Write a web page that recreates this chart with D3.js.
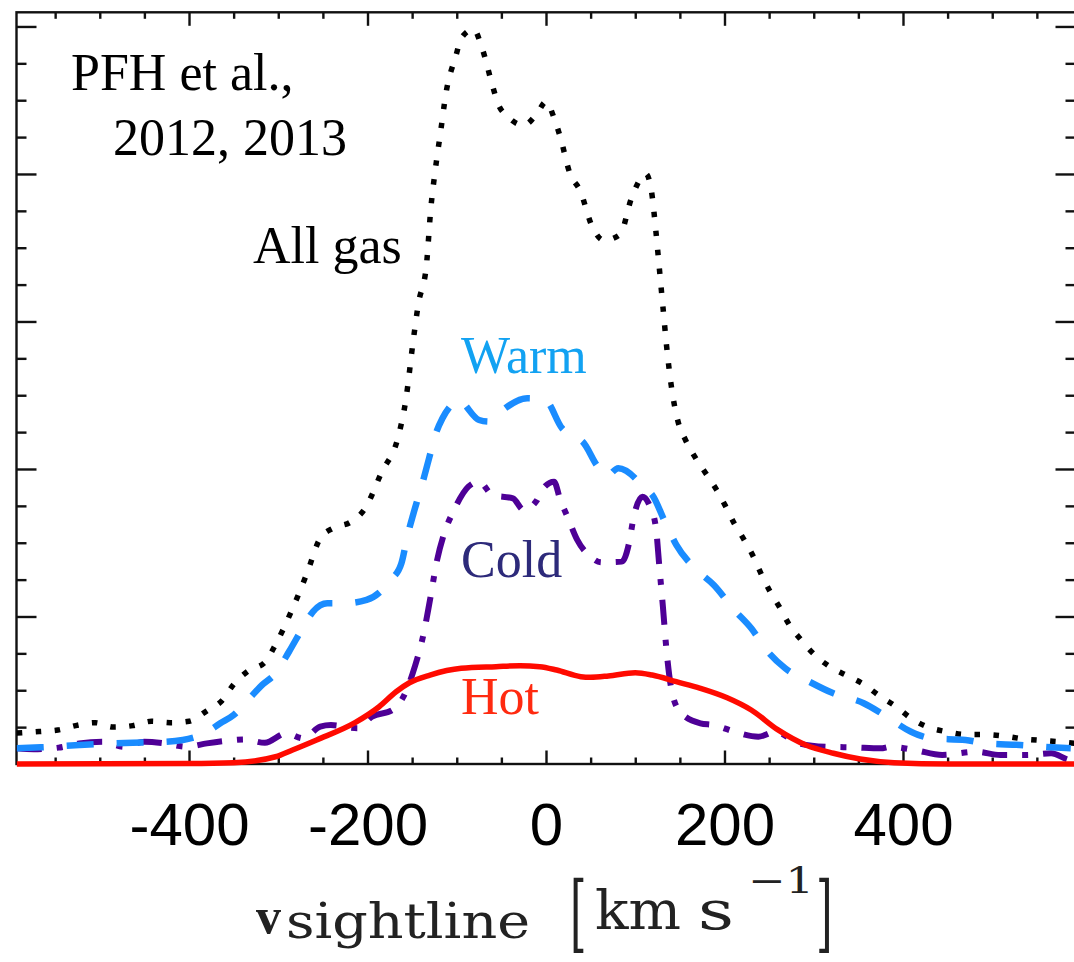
<!DOCTYPE html>
<html><head><meta charset="utf-8">
<script src="https://cdn.jsdelivr.net/npm/d3@7"></script>
<style>html,body{margin:0;padding:0;background:#fff;} svg{display:block;}</style>
</head><body><svg id="chart" width="1074" height="962"></svg>
<script>
// ---- data (velocity in km/s, profile in arbitrary units) ----
const allGasV = [-593,-568,-547,-527,-505,-485,-463,-442,-421,-400,-380,-363,-350,-334,-315,-303,-285,-268,-253,-238,-219,-203,-184,-166,-157,-149,-143,-134,-129,-124,-118,-112,-101,-95,-81,-72,-60,-54,-43,-25,-10,0,9,16,27,38,52,65,83,96,112,118,123,127,131,135,140,148,156,167,178,191,201,211,222,232,241,251,262,273,286,301,318,337,356,374,392,409,428,448,470,491,513,535,555,577,593];
const allGasY = [0.21,0.22,0.23,0.26,0.28,0.25,0.26,0.29,0.28,0.29,0.36,0.43,0.54,0.63,0.69,0.81,1.04,1.29,1.53,1.60,1.64,1.73,1.98,2.21,2.47,2.86,3.12,3.38,3.77,4.03,4.29,4.55,4.80,4.92,4.98,4.86,4.60,4.48,4.39,4.33,4.41,4.49,4.38,4.25,4.00,3.89,3.64,3.55,3.59,3.84,4.00,3.89,3.62,3.36,3.10,2.84,2.58,2.32,2.20,2.08,1.98,1.86,1.75,1.63,1.52,1.41,1.29,1.17,1.06,0.94,0.84,0.74,0.66,0.60,0.54,0.46,0.39,0.31,0.25,0.22,0.20,0.20,0.19,0.17,0.16,0.15,0.14];

const warmV = [-593,-566,-523,-502,-463,-440,-407,-380,-365,-350,-334,-318,-303,-288,-274,-261,-245,-226,-201,-174,-162,-155,-149,-143,-137,-131,-124,-116,-106,-99,-75,-64,-53,-21,-1,18,31,41,58,68,81,100,108,119,134,146,169,188,211,230,247,268,295,322,356,379,409,432,470,493,531,558,588];
const warmY = [0.106,0.113,0.129,0.136,0.144,0.147,0.163,0.215,0.276,0.332,0.434,0.536,0.615,0.761,0.908,1.033,1.089,1.089,1.112,1.247,1.361,1.553,1.688,1.812,1.937,2.073,2.231,2.344,2.434,2.468,2.332,2.321,2.378,2.48,2.468,2.276,2.219,2.185,2.016,1.953,2.005,1.937,1.880,1.824,1.632,1.485,1.315,1.214,1.044,0.920,0.773,0.649,0.558,0.479,0.412,0.332,0.219,0.174,0.163,0.140,0.129,0.117,0.106];

const coldV = [-593,-574,-546,-523,-496,-473,-450,-427,-403,-380,-357,-338,-315,-291,-272,-253,-241,-211,-195,-172,-157,-147,-137,-130,-122,-114,-103,-87,-75,-60,-37,-25,-10,-7,9,16,24,35,50,62,85,93,98,108,115,123,127,131,135,140,150,173,188,211,238,257,283,314,344,375,386,413,444,482,509,539,566,585,593];
const coldY = [0.106,0.100,0.111,0.140,0.151,0.117,0.151,0.140,0.117,0.140,0.158,0.167,0.144,0.208,0.174,0.253,0.264,0.242,0.321,0.366,0.490,0.660,0.886,1.112,1.383,1.564,1.722,1.880,1.914,1.824,1.801,1.722,1.790,1.835,1.914,1.790,1.677,1.519,1.405,1.367,1.372,1.496,1.666,1.812,1.767,1.609,1.338,1.066,0.773,0.524,0.355,0.276,0.264,0.219,0.185,0.219,0.140,0.117,0.113,0.106,0.117,0.095,0.061,0.083,0.061,0.061,0.073,0.030,0.02];

const hotV = [-593,-400,-350,-303,-284,-257,-214,-187,-168,-153,-130,-95,-56,-29,-7,12,39,50,70,100,119,146,173,203,230,260,291,322,352,390,451,593];
const hotY = [0,0.003,0.009,0.049,0.095,0.163,0.280,0.388,0.490,0.551,0.603,0.649,0.660,0.666,0.660,0.637,0.592,0.588,0.597,0.619,0.603,0.558,0.513,0.449,0.366,0.231,0.129,0.073,0.034,0.009,0,0];

const xTickLabels = [-400,-200,0,200,400];
const xMajorStep = 200, xMinorStep = 50;
const yMajorStep = 1, yMinorStep = 0.25;

// ---- layout ----
const svg = d3.select("#chart");
const plot = {left:16.5, right:1075.5, top:12.3, bottom:764};
const x = d3.scaleLinear().domain([-593.3, 593.3]).range([plot.left, plot.right]);
const y = d3.scaleLinear().domain([0, 5.096]).range([plot.bottom, plot.top]);

svg.append("rect").attr("width",1074).attr("height",962).attr("fill","#fff");

svg.append("defs").append("clipPath").attr("id","clip")
  .append("rect").attr("x",plot.left).attr("y",plot.top)
  .attr("width",plot.right-plot.left).attr("height",plot.bottom-plot.top+4);

const xMinor = d3.range(-550, 551, xMinorStep).filter(v => v % xMajorStep !== 0);
const xMajor = d3.range(-400, 401, xMajorStep);
const yMinor = d3.range(0.25, 5.05, yMinorStep).filter(v => Math.abs(v - Math.round(v)) > 1e-6);
const yMajor = d3.range(1, 5.01, yMajorStep);

function styleAxis(g){
  g.select(".domain").remove();
  g.selectAll(".tick line").attr("stroke","#111").attr("stroke-width",2.4);
}
// bottom
svg.append("g").attr("transform",`translate(0,${plot.bottom})`)
  .call(d3.axisBottom(x).tickValues(xMinor).tickSize(-6.5).tickSizeOuter(0).tickFormat("")).call(styleAxis);
svg.append("g").attr("transform",`translate(0,${plot.bottom})`)
  .call(d3.axisBottom(x).tickValues(xMajor).tickSize(-13.5).tickSizeOuter(0).tickFormat("")).call(styleAxis);
// top
svg.append("g").attr("transform",`translate(0,${plot.top})`)
  .call(d3.axisTop(x).tickValues(xMinor).tickSize(-6.5).tickSizeOuter(0).tickFormat("")).call(styleAxis);
svg.append("g").attr("transform",`translate(0,${plot.top})`)
  .call(d3.axisTop(x).tickValues(xMajor).tickSize(-13.5).tickSizeOuter(0).tickFormat("")).call(styleAxis);
// left
svg.append("g").attr("transform",`translate(${plot.left},0)`)
  .call(d3.axisLeft(y).tickValues(yMinor).tickSize(-10).tickSizeOuter(0).tickFormat("")).call(styleAxis);
svg.append("g").attr("transform",`translate(${plot.left},0)`)
  .call(d3.axisLeft(y).tickValues(yMajor).tickSize(-20).tickSizeOuter(0).tickFormat("")).call(styleAxis);
// right
svg.append("g").attr("transform",`translate(${plot.right},0)`)
  .call(d3.axisRight(y).tickValues(yMinor).tickSize(-10).tickSizeOuter(0).tickFormat("")).call(styleAxis);
svg.append("g").attr("transform",`translate(${plot.right},0)`)
  .call(d3.axisRight(y).tickValues(yMajor).tickSize(-20).tickSizeOuter(0).tickFormat("")).call(styleAxis);

// tick labels
const lab = svg.append("g").attr("transform",`translate(0,${plot.bottom})`)
  .call(d3.axisBottom(x).tickValues(xTickLabels).tickSize(0).tickPadding(38.5).tickFormat(d => String(d)));
lab.select(".domain").remove();
lab.selectAll("text").attr("font-family","'Liberation Sans', Arial, Helvetica, sans-serif")
  .attr("font-size",60).attr("fill","#000");

// frame
svg.append("rect").attr("x",plot.left).attr("y",plot.top)
  .attr("width",plot.right-plot.left).attr("height",plot.bottom-plot.top)
  .attr("fill","none").attr("stroke","#111").attr("stroke-width",2.4);

// ---- lines ----
const line = d3.line().x(d => x(d[0])).y(d => y(d[1])).curve(d3.curveMonotoneX);
const gl = svg.append("g").attr("clip-path","url(#clip)");
function addLine(vs, ys, color, width, dash){
  gl.append("path").datum(d3.zip(vs, ys)).attr("d", line)
    .attr("fill","none").attr("stroke",color).attr("stroke-width",width)
    .attr("stroke-dasharray",dash).attr("stroke-linejoin","round");
}
addLine(allGasV, allGasY, "#000", 5.5, "5.5,13.5");
addLine(coldV, coldY, "#4e0096", 6, "25,15,6,15");
addLine(warmV, warmY, "#1a8cff", 6.5, "27,23");
addLine(hotV, hotY, "#ff0a00", 5.5, null);

// ---- annotations ----
const serif = "'Liberation Serif', 'Times New Roman', Times, serif";
function note(txt, px, py, color){
  svg.append("text").attr("x",px).attr("y",py).attr("font-family",serif)
    .attr("font-size",52).attr("fill",color).text(txt);
}
note("PFH et al.,", 71, 90, "#000");
note("2012, 2013", 113, 155, "#000");
note("All gas", 253, 263, "#000");
note("Warm", 461, 373, "#12a2f2");
note("Cold", 461, 577, "#2d2a7a");
note("Hot", 461, 714, "#ff2a10");

// ---- x axis title ----
const tcol = "#222";
const dv = "'DejaVu Serif', serif";
svg.append("text").attr("x",256).attr("y",933).attr("font-family",serif).attr("font-weight","bold")
  .attr("font-size",50).attr("fill",tcol).text("v");
svg.append("text").attr("x",286).attr("y",938).attr("font-family",dv)
  .attr("font-size",48).attr("fill",tcol).attr("textLength",244).attr("lengthAdjust","spacingAndGlyphs").text("sightline");
svg.append("text").attr("transform","translate(570,942) scale(0.5,1)").attr("font-family",dv)
  .attr("font-size",85).attr("fill",tcol).text("[");
svg.append("text").attr("x",595).attr("y",929).attr("font-family",dv)
  .attr("font-size",54).attr("fill",tcol).attr("textLength",86).attr("lengthAdjust","spacingAndGlyphs").text("km");
svg.append("text").attr("x",698).attr("y",929).attr("font-family",dv)
  .attr("font-size",54).attr("fill",tcol).attr("textLength",36).attr("lengthAdjust","spacingAndGlyphs").text("s");
svg.append("text").attr("x",748).attr("y",893).attr("font-family",dv)
  .attr("font-size",36).attr("fill",tcol).attr("textLength",66).attr("lengthAdjust","spacingAndGlyphs").text("\u22121");
svg.append("text").attr("transform","translate(816,942) scale(0.5,1)").attr("font-family",dv)
  .attr("font-size",85).attr("fill",tcol).text("]");
</script></body></html>
